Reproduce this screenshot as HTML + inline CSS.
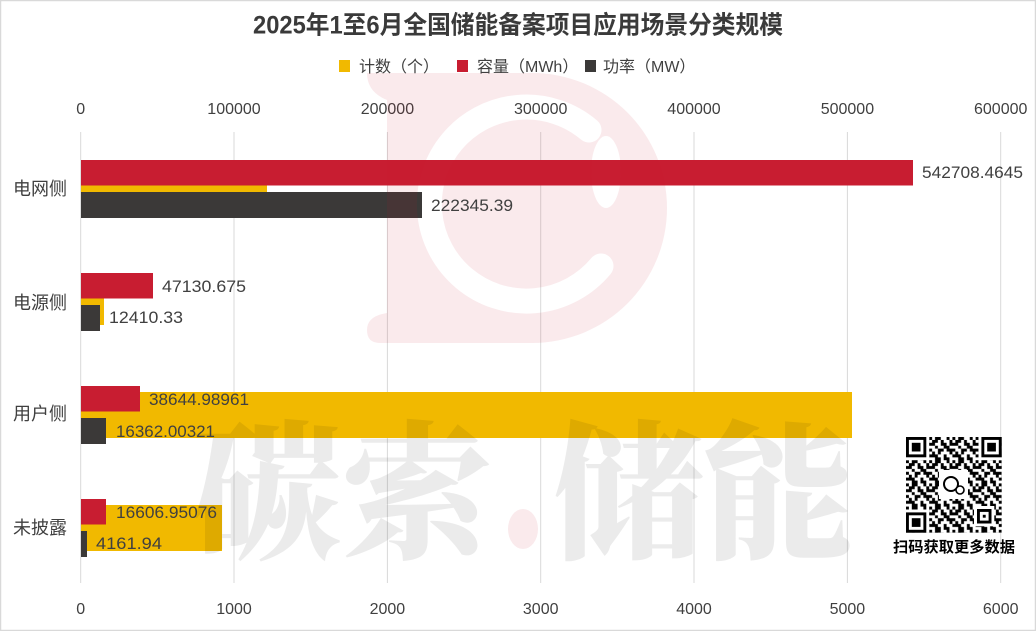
<!DOCTYPE html>
<html><head><meta charset="utf-8"><style>
html,body{margin:0;padding:0;background:#fff;}
svg{display:block;}
</style></head><body>
<svg width="1036" height="631" viewBox="0 0 1036 631" xmlns="http://www.w3.org/2000/svg">
<defs>
<mask id="lm" maskUnits="userSpaceOnUse" x="0" y="0" width="1036" height="631">
<rect width="1036" height="631" fill="#000"/>
<path d="M367,73 H532 A135,135 0 0 1 532,343 H380 Q367,343 367,330 Q367,316 387,313 V100 Q367,92 367,73 Z" fill="#fff"/>
<path d="M589,130 A97,97 0 1 0 601,266" fill="none" stroke="#000" stroke-width="25" stroke-linecap="round"/>
<ellipse cx="606" cy="172" rx="15" ry="36" fill="#000"/>
</mask>
<pattern id="qr" patternUnits="userSpaceOnUse" width="8" height="8" patternTransform="translate(906,437) scale(2.9)">
<path fill="#000" d="M0 0h1v1h-1z M2 0h2v1h-2z M6 0h1v1h-1z M1 1h2v1h-2z M4 1h1v1h-1z M7 1h1v1h-1z M0 2h2v1h-2z M4 2h2v1h-2z M7 2h1v1h-1z M2 3h1v1h-1z M5 3h2v1h-2z M0 4h1v1h-1z M3 4h2v1h-2z M6 4h2v1h-2z M1 5h1v1h-1z M3 5h1v1h-1z M7 5h1v1h-1z M0 6h3v1h-3z M5 6h1v1h-1z M2 7h2v1h-2z M5 7h2v1h-2z"/>
</pattern>
</defs>

<rect width="1036" height="631" fill="#fff"/>
<rect x="0.5" y="0.5" width="1035" height="630" fill="none" stroke="#d9d9d9" stroke-width="1.5"/>

<!-- title -->
<text x="518" y="33.5" text-anchor="middle" font-family="'Liberation Sans','Noto Sans CJK SC',sans-serif" font-weight="bold" font-size="25" fill="#3a3a3a" textLength="530" lengthAdjust="spacingAndGlyphs">2025年1至6月全国储能备案项目应用场景分类规模</text>

<!-- legend -->
<g font-family="'Liberation Sans','Noto Sans CJK SC',sans-serif" font-size="16" fill="#404040">
<rect x="339" y="60" width="11" height="12" fill="#f1b900"/>
<text x="359" y="72">计数（个）</text>
<rect x="457" y="60" width="11" height="12" fill="#c81d31"/>
<text x="477" y="72">容量（MWh）</text>
<rect x="585" y="60" width="11" height="12" fill="#3b3938"/>
<text x="603" y="72">功率（MW）</text>
</g>

<!-- gridlines -->
<g stroke="#d9d9d9" stroke-width="1">
<line x1="80.7" y1="132" x2="80.7" y2="583"/>
<line x1="234" y1="132" x2="234" y2="583"/>
<line x1="387.4" y1="132" x2="387.4" y2="583"/>
<line x1="540.7" y1="132" x2="540.7" y2="583"/>
<line x1="694" y1="132" x2="694" y2="583"/>
<line x1="847.4" y1="132" x2="847.4" y2="583"/>
<line x1="1000.7" y1="132" x2="1000.7" y2="583"/>
</g>

<!-- axis labels -->
<g font-family="'Liberation Sans',sans-serif" font-size="16" fill="#404040" text-anchor="middle">
<text x="80.7" y="114">0</text>
<text x="234" y="114">100000</text>
<text x="387.4" y="114">200000</text>
<text x="540.7" y="114">300000</text>
<text x="694" y="114">400000</text>
<text x="847.4" y="114">500000</text>
<text x="1000.7" y="114">600000</text>
<text x="80.7" y="614">0</text>
<text x="234" y="614">1000</text>
<text x="387.4" y="614">2000</text>
<text x="540.7" y="614">3000</text>
<text x="694" y="614">4000</text>
<text x="847.4" y="614">5000</text>
<text x="1000.7" y="614">6000</text>
</g>

<!-- category labels -->
<g font-family="'Liberation Sans','Noto Sans CJK SC',sans-serif" font-size="18" fill="#404040" text-anchor="end">
<text x="67" y="195">电网侧</text>
<text x="67" y="309">电源侧</text>
<text x="67" y="420">用户侧</text>
<text x="67" y="534">未披露</text>
</g>

<!-- bars: yellow (count) behind -->
<g fill="#f1b900">
<rect x="81" y="166" width="186" height="46"/>
<rect x="81" y="279" width="23" height="46"/>
<rect x="81" y="392" width="771" height="46"/>
<rect x="81" y="505" width="141" height="46"/>
</g>
<g fill="#c81d31">
<rect x="81" y="160" width="832" height="25.5"/>
<rect x="81" y="273" width="72" height="25.5"/>
<rect x="81" y="386" width="59" height="25.5"/>
<rect x="81" y="499" width="25" height="25.5"/>
</g>
<g fill="#3b3938">
<rect x="81" y="192" width="341" height="26"/>
<rect x="81" y="305" width="19" height="26"/>
<rect x="81" y="418" width="25" height="26"/>
<rect x="81" y="531" width="6" height="26"/>
</g>

<!-- watermarks -->
<rect width="1036" height="631" fill="rgb(205,25,45)" fill-opacity="0.09" mask="url(#lm)"/>
<ellipse cx="523" cy="529" rx="15" ry="20" fill="rgb(205,25,45)" fill-opacity="0.09"/>
<g font-family="'Noto Serif CJK SC','Noto Sans CJK SC',serif" font-weight="900" font-size="150" fill="#000" fill-opacity="0.08">
<text x="192" y="547">碳索</text>
<text x="553" y="547">储能</text>
</g>

<!-- data labels -->
<g font-family="'Liberation Sans',sans-serif" font-size="16.5" fill="#404040">
<text x="922" y="178" textLength="101" lengthAdjust="spacingAndGlyphs">542708.4645</text>
<text x="431" y="211" textLength="82" lengthAdjust="spacingAndGlyphs">222345.39</text>
<text x="162" y="292" textLength="84" lengthAdjust="spacingAndGlyphs">47130.675</text>
<text x="109" y="323" textLength="74" lengthAdjust="spacingAndGlyphs">12410.33</text>
<text x="149" y="405" textLength="100" lengthAdjust="spacingAndGlyphs">38644.98961</text>
<text x="116" y="437" textLength="99" lengthAdjust="spacingAndGlyphs">16362.00321</text>
<text x="116" y="518" textLength="101" lengthAdjust="spacingAndGlyphs">16606.95076</text>
<text x="96" y="549" textLength="66" lengthAdjust="spacingAndGlyphs">4161.94</text>
</g>

<!-- QR code -->
<rect x="906" y="437" width="95.7" height="95.7" fill="#fff"/>
<rect x="906" y="437" width="95.7" height="95.7" fill="url(#qr)"/>
<g>
<rect x="906" y="437" width="23.2" height="23.2" fill="#fff"/>
<rect x="906" y="437" width="20.3" height="20.3" fill="#000"/>
<rect x="908.9" y="439.9" width="14.5" height="14.5" fill="#fff"/>
<rect x="911.8" y="442.8" width="8.7" height="8.7" fill="#000"/>

<rect x="978.5" y="437" width="23.2" height="23.2" fill="#fff"/>
<rect x="981.4" y="437" width="20.3" height="20.3" fill="#000"/>
<rect x="984.3" y="439.9" width="14.5" height="14.5" fill="#fff"/>
<rect x="987.2" y="442.8" width="8.7" height="8.7" fill="#000"/>

<rect x="906" y="509.5" width="23.2" height="23.2" fill="#fff"/>
<rect x="906" y="512.4" width="20.3" height="20.3" fill="#000"/>
<rect x="908.9" y="515.3" width="14.5" height="14.5" fill="#fff"/>
<rect x="911.8" y="518.2" width="8.7" height="8.7" fill="#000"/>

<rect x="974" y="506" width="20.3" height="20.3" fill="#fff"/>
<rect x="977" y="509" width="14.5" height="14.5" fill="#000"/>
<rect x="979.9" y="511.9" width="8.7" height="8.7" fill="#fff"/>
<rect x="982.8" y="514.8" width="2.9" height="2.9" fill="#000"/>

<rect x="939" y="470" width="29" height="29" fill="#fff"/>
<circle cx="951" cy="484" r="7" fill="none" stroke="#000" stroke-width="2"/>
<circle cx="960" cy="490" r="4" fill="#fff" stroke="#000" stroke-width="1.6"/>
</g>
<text x="893" y="552" font-family="'Liberation Sans','Noto Sans CJK SC',sans-serif" font-weight="bold" font-size="15" fill="#000" textLength="122" lengthAdjust="spacingAndGlyphs">扫码获取更多数据</text>
</svg>
</body></html>
